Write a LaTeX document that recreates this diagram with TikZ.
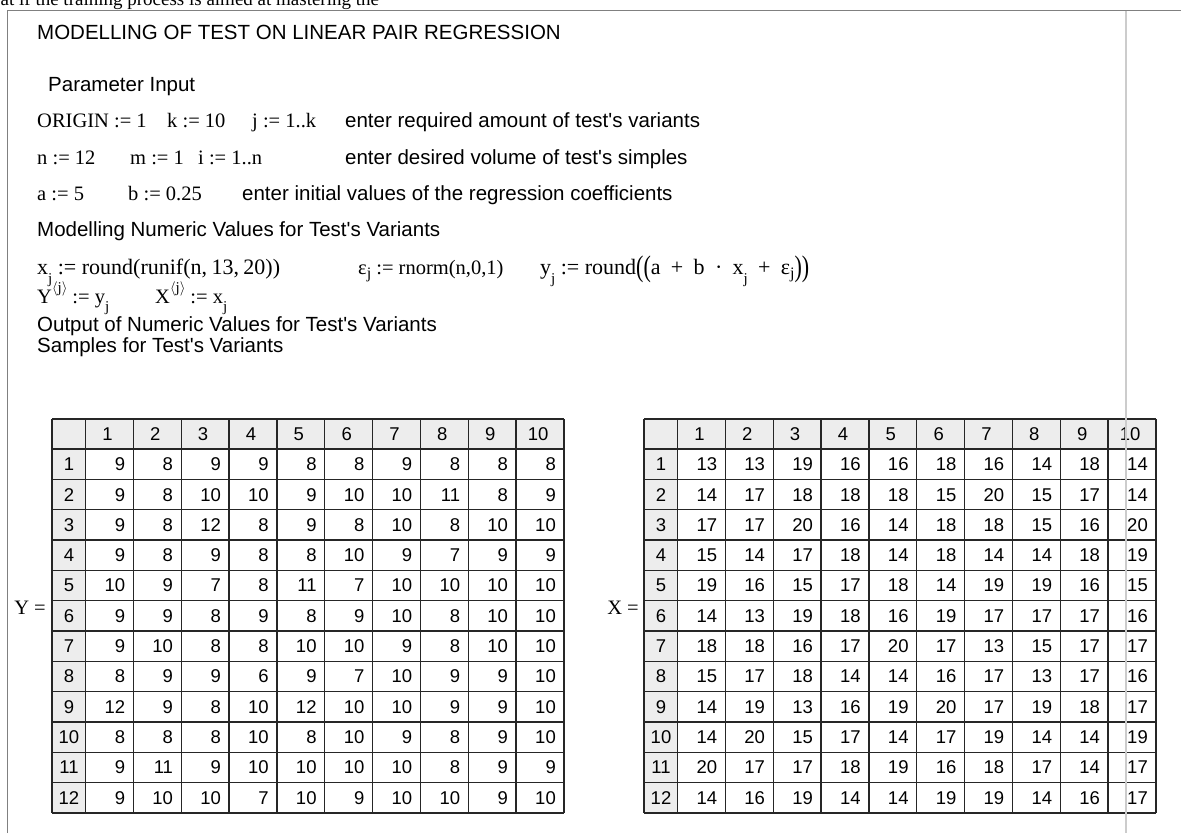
\documentclass[tikz,border=0pt]{standalone}
\usepackage{fontspec}
\usepackage{graphicx}
\setmainfont{Liberation Serif}
\newfontfamily\arialf{Liberation Sans}
\tikzset{
  txt/.style={font=\arialf\fontsize{20.5}{22}\selectfont, anchor=base west, inner sep=0pt},
  mth/.style={font=\fontsize{20.5}{22}\selectfont, anchor=base west, inner sep=0pt},
  num/.style={font=\arialf\fontsize{18.5}{20}\selectfont, inner sep=0pt},
  hdr/.style={fill=black!7},
  grid/.style={draw=black!85, line width=1.4pt},
}
\newcommand{\msub}[2]{#1\raisebox{-0.42em}{\fontsize{15}{15}\selectfont #2}}
\newcommand{\epsj}{ε\raisebox{-0.2em}{\fontsize{16}{16}\selectfont j}}
\newcommand{\tallp}[1]{\raisebox{-0.12em}{\scalebox{1}[1.35]{#1}}}
\newcommand{\supj}{\raisebox{0.5em}{\fontsize{15}{15}\selectfont$\langle$j$\rangle$}}
\newcommand{\opsp}{\hspace{0.22em}}
\newcommand{\mctable}[3]{%
  \fill[hdr] (#2,419) rectangle (#2+512,449);
  \fill[hdr] (#2,449) rectangle (#2+33.5,813);
  \draw[grid] (#2,419) -- (#2+512,419);
  \foreach \k in {0,...,12} \draw[grid] (#2,{449+\k*30.33}) -- (#2+512,{449+\k*30.33});
  \draw[grid] (#2,419) -- (#2,813);
  \foreach \c in {0,...,10} \draw[grid] ({#2+33.5+\c*47.85},419) -- ({#2+33.5+\c*47.85},813);
  \foreach \c in {1,...,10} \node[num, anchor=base] (#1-h-\c) at ({#2+33.5+(\c-0.5)*47.85-2},440.5) {\c};
  \foreach \r in {1,...,12} \node[num, anchor=base] (#1-i-\r) at ({#2+17},{449+(\r-0.5)*30.33+6.5}) {\r};
  \foreach \row [count=\r] in {#3} {
    \foreach \v [count=\c] in \row {
      \node[num, anchor=base east] (#1-\r-\c) at ({#2+33.5+\c*47.85-8},{449+(\r-0.5)*30.33+6.5}) {\v};
    }
  }
}
\begin{document}
\begin{tikzpicture}[x=1pt,y=-1pt]
\useasboundingbox (0,0) rectangle (1181,833);
\clip (0,0) rectangle (1181,833);
\fill[white] (0,0) rectangle (1181,833);
% clipped line of running text above the worksheet
\node[font=\fontsize{19}{21}\selectfont, anchor=base west, inner sep=0pt] (toptext) at (0.5,5) {at if the training process is aimed at mastering the};
% worksheet frame
\draw[draw=black!50, line width=1pt] (7,833) -- (7,10.7) -- (1181,10.7);
% texts
\node[txt] (title) at (37,39.5) {MODELLING OF TEST ON LINEAR PAIR REGRESSION};
\node[txt] (param) at (48,91) {Parameter Input};
\node[mth] (l1a) at (37,127) {ORIGIN := 1};
\node[mth] (l1b) at (167,127) {k := 10};
\node[mth] (l1c) at (252,127) {j := 1..k};
\node[txt] (l1d) at (345,127) {enter required amount of test's variants};
\node[mth] (l2a) at (37,164) {n := 12};
\node[mth] (l2b) at (130,164) {m := 1};
\node[mth] (l2c) at (198,164) {i := 1..n};
\node[txt] (l2d) at (345,164) {enter desired volume of test's simples};
\node[mth] (l3a) at (37,200) {a := 5};
\node[mth] (l3b) at (128,200) {b := 0.25};
\node[txt] (l3d) at (242,200) {enter initial values of the regression coefficients};
\node[txt] (model) at (37,236) {Modelling Numeric Values for Test's Variants};
\node[mth, font=\fontsize{22}{23}\selectfont] (fx) at (37,274) {\msub{x}{j} := round(runif(n,\hspace{0.2em}13,\hspace{0.2em}20))};
\node[mth] (fe) at (358,274) {\epsj{} := rnorm(n,0,1)};
\node[mth, font=\fontsize{22}{23}\selectfont] (fy) at (540,274) {\msub{y}{j} := round\tallp{(}\tallp{(}a\opsp{} + \opsp{}b\opsp{} · \opsp{}\msub{x}{j}\opsp{} + \opsp{}\epsj\tallp{)}\tallp{)}};
\node[mth] (fY) at (37,303) {Y\supj{} := \msub{y}{j}};
\node[mth] (fX) at (155,303) {X\supj{} := \msub{x}{j}};
\node[txt] (outp) at (37,331) {Output of Numeric Values for Test's Variants};
\node[txt] (samp) at (37,352) {Samples for Test's Variants};
% tables
\mctable{Y}{52}{{9,8,9,9,8,8,9,8,8,8},{9,8,10,10,9,10,10,11,8,9},{9,8,12,8,9,8,10,8,10,10},{9,8,9,8,8,10,9,7,9,9},{10,9,7,8,11,7,10,10,10,10},{9,9,8,9,8,9,10,8,10,10},{9,10,8,8,10,10,9,8,10,10},{8,9,9,6,9,7,10,9,9,10},{12,9,8,10,12,10,10,9,9,10},{8,8,8,10,8,10,9,8,9,10},{9,11,9,10,10,10,10,8,9,9},{9,10,10,7,10,9,10,10,9,10}}
\mctable{X}{644}{{13,13,19,16,16,18,16,14,18,14},{14,17,18,18,18,15,20,15,17,14},{17,17,20,16,14,18,18,15,16,20},{15,14,17,18,14,18,14,14,18,19},{19,16,15,17,18,14,19,19,16,15},{14,13,19,18,16,19,17,17,17,16},{18,18,16,17,20,17,13,15,17,17},{15,17,18,14,14,16,17,13,17,16},{14,19,13,16,19,20,17,19,18,17},{14,20,15,17,14,17,19,14,14,19},{20,17,17,18,19,16,18,17,14,17},{14,16,19,14,14,19,19,14,16,17}}
\node[mth, anchor=base east] (Ylab) at (46,614) {Y =};
\node[mth, anchor=base east] (Xlab) at (639,614) {X =};
% light page edge line
\draw[draw=black!20, line width=1.5pt] (1126,10.7) -- (1126,833);
\end{tikzpicture}
\end{document}
